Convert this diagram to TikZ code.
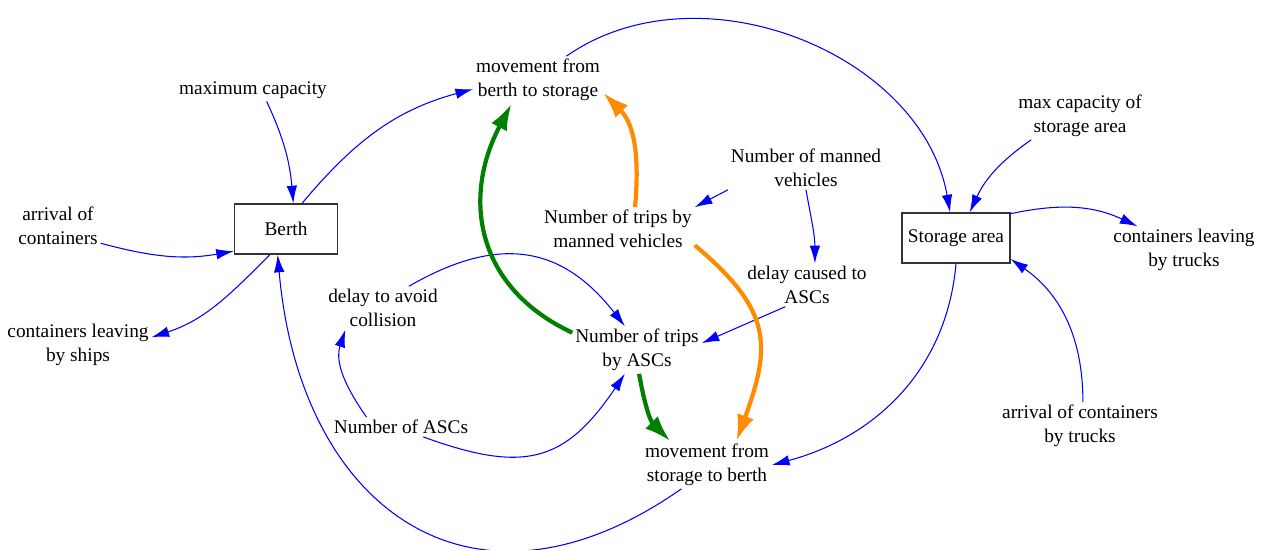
\documentclass[tikz,border=0pt]{standalone}
\usepackage{fontspec}
\setmainfont{Liberation Serif}
\newfontfamily\diagfont{Liberation Serif}
\usetikzlibrary{arrows.meta}

\definecolor{linkblue}{RGB}{0,0,255}
\definecolor{loopgreen}{RGB}{0,128,0}
\definecolor{looporange}{RGB}{255,140,0}

\begin{document}
\begin{tikzpicture}[x=0.02cm,y=0.02cm,->,>={Latex[length=10pt,width=6pt]},
		var node/.style={align=center,inner sep=1.5pt,font=\diagfont\fontsize{11}{13.6}\selectfont},
		stock node/.style={draw=black!80,line width=0.8pt,minimum width=2.06cm,minimum height=1cm,font=\diagfont\fontsize{11}{13.6}\selectfont},
		link/.style={linkblue,line width=0.6pt},
		green link/.style={loopgreen,line width=2.4pt,-{Latex[length=15pt,width=10pt]}},
		orange link/.style={looporange,line width=2.4pt,-{Latex[length=15pt,width=10pt]}}]
		
		\useasboundingbox (0,0) rectangle (1263,-550);
		
		\node[var node] (maxcap) at (253,-90) {maximum capacity};
		\node[var node] (mbs) at (538,-80) {movement from\\berth to storage};
		\node[stock node] (berth) at (286,-229) {Berth};
		\node[var node] (aoc) at (58,-226) {arrival of\\containers};
		\node[var node] (cls) at (78,-345) {containers leaving\\by ships};
		\node[var node] (maxstor) at (1080,-116) {max capacity of\\storage area};
		\node[var node] (nmv) at (806,-168) {Number of manned\\vehicles};
		\node[var node] (ntm) at (618,-229) {Number of trips by\\manned vehicles};
		\node[stock node] (stor) at (956,-238) {Storage area};
		\node[var node] (clt) at (1184,-250) {containers leaving\\by trucks};
		\node[var node] (dca) at (807,-285) {delay caused to\\ASCs};
		\node[var node] (dac) at (383,-308) {delay to avoid\\collision};
		\node[var node] (nta) at (637,-350) {Number of trips\\by ASCs};
		\node[var node] (nasc) at (401,-427) {Number of ASCs};
		\node[var node] (act) at (1080,-426) {arrival of containers\\by trucks};
		\node[var node] (msb) at (707,-465) {movement from\\storage to berth};
		
		% blue links
		\path[link]
		(maxcap.-40) edge[out=-65,in=95] (berth.74)
		(berth.58) edge[out=50,in=195] (mbs.188)
		(aoc.-22) edge[out=-15,in=190] (berth.203)
		(berth.-122) edge[out=-135,in=18] (cls.6)
		(msb.-137) edge[out=-145,in=-85,looseness=1.4] (berth.-108)
		(mbs.40) edge[out=35,in=100] (stor.103)
		(maxstor.-154) edge[out=-145,in=65] (stor.62)
		(stor.24) edge[out=12,in=155] (clt.153)
		(act.83) edge[out=90,in=-35] (stor.-21)
		(stor.south) edge[out=-95,in=15] (msb.east)
		(nmv.south west) edge (ntm.north east)
		(nmv.south) edge[out=-80,in=90] (dca.70)
		(dca.-135) edge (nta.6)
		(nasc.164) edge[out=125,in=-108] (dac.-150)
		(nasc.-24) edge[out=-20,in=-124,looseness=1.3] (nta.-117)
		(dac.40) edge[out=30,in=128,looseness=1.2] (nta.117);
		
		% loops
		\path[orange link]
		(ntm.52) edge[out=85,in=-45] (mbs.-11)
		(ntm.-12) edge[out=-40,in=70,looseness=1.3] (msb.39);
		\path[green link]
		(nta.165) edge[out=155,in=-118,looseness=1.15] (mbs.-138)
		(nta.-85) edge[out=-80,in=135] (msb.147);
		
\end{tikzpicture}
\end{document}
